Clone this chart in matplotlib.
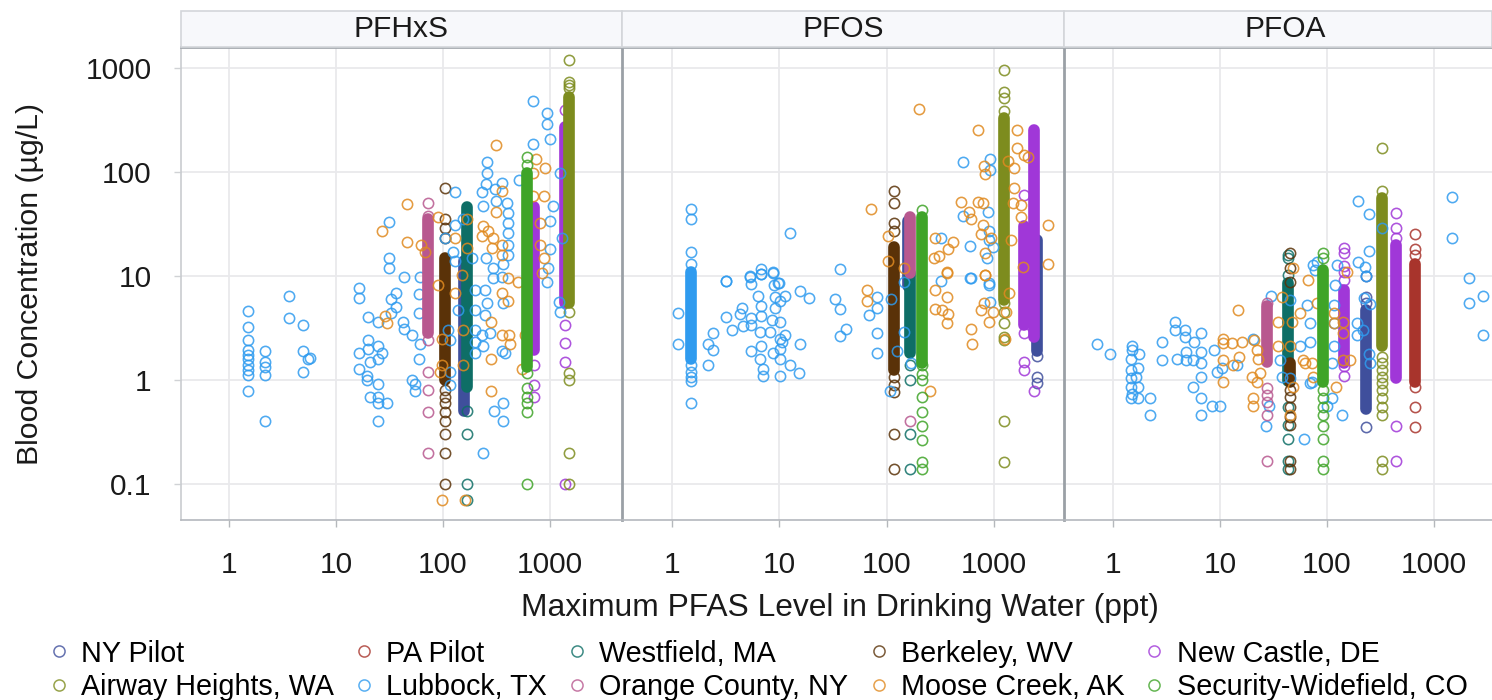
"""Three-panel scatter of PFAS blood concentration vs drinking water level by site."""
import matplotlib
matplotlib.use('Agg')
import matplotlib.pyplot as plt
from matplotlib.lines import Line2D
from matplotlib.patches import Rectangle

plt.rcParams['font.family'] = ['Liberation Sans', 'DejaVu Sans']

W, H = 1492, 700
FS = 21.5

panels = ['PFHxS', 'PFOS', 'PFOA']
tick_vals = [1, 10, 100, 1000]
ytick_vals = [0.1, 1, 10, 100, 1000]
ytick_labels = ['0.1', '1', '10', '100', '1000']

# legend order is also drawing order
sites = ['NY Pilot', 'PA Pilot', 'Westfield, MA', 'Berkeley, WV', 'New Castle, DE',
         'Airway Heights, WA', 'Lubbock, TX', 'Orange County, NY', 'Moose Creek, AK',
         'Security-Widefield, CO']
site_colors = ['#3f4f9c', '#a8342c', '#0e6e66', '#5a3208', '#a037d8',
               '#7d8c1e', '#2f9bef', '#b8588f', '#e08a20', '#3fa428']

# PFHxS: one site per water level. lo/hi is the stretch where the rings merge solid,
# rings are the separate circles still readable around it
pfhxs_site = ['NY Pilot', 'Westfield, MA', 'Berkeley, WV', 'New Castle, DE', 'New Castle, DE',
              'Airway Heights, WA', 'Orange County, NY', 'Security-Widefield, CO']
pfhxs_x = [157, 168, 105, 708, 1380, 1500, 72, 610]
pfhxs_lo = [0.5, 0.86, 1.0, 1.94, 5.5, 5.5, 2.8, 1.33]
pfhxs_hi = [14, 46, 15, 46, 270, 525, 35, 98]
pfhxs_rings = [[],
               [0.5, 0.3, 0.1, 0.07],
               [70, 35, 29, 23, 0.8, 0.69, 0.6, 0.49, 0.4, 0.3, 0.2, 0.1],
               [1.4, 0.9, 0.69],
               [390, 3.4, 2.26, 1.5, 0.1],
               [1200, 733, 690, 645, 4.5, 1.17, 1.0, 0.2, 0.1],
               [50, 38, 2.4, 1.2, 0.8, 0.49, 0.2],
               [139, 117, 1.16, 0.84, 0.69, 0.6, 0.49, 0.1]]
pfhxs_lubbock_x = [1.5, 1.5, 1.5, 1.5, 1.5, 1.5, 1.5, 1.5, 1.5, 1.5, 2.17, 2.17, 2.17, 2.17, 2.17,
                   3.6, 3.6, 4.9, 4.9, 4.9, 5.7, 5.5, 16.4, 16.4, 36.4, 32.4, 36.4, 32.4, 43, 61,
                   60, 60, 20, 24.9, 42, 43, 51, 61, 20, 24.9, 16.4, 20, 26.7, 24.9, 20.8, 16.4,
                   19.4, 19.4, 24.9, 20.8, 24.9, 24.9, 29.8, 24.9, 50.8, 55, 55, 60,
                   112, 116, 139, 199, 199, 199, 199, 199, 247, 256, 247, 230, 275, 238, 366,
                   353, 379, 295, 353, 238, 360, 300, 360, 931, 1222, 1240, 116, 116,
                   689, 931, 931, 1000, 689, 513, 256, 256, 252, 230, 353, 306, 235, 313, 394,
                   408, 129, 1074, 1000, 1000, 408, 408, 408, 408, 129, 104, 153, 252, 185, 125,
                   129, 1240, 1285, 31.5, 31.5, 31.5, 295, 366, 964]
pfhxs_lubbock_y = [4.6, 3.2, 2.4, 1.94, 1.74, 1.6, 1.39, 1.25, 1.12, 0.78, 1.9, 1.5, 1.33, 1.12, 0.4,
                   6.4, 3.9, 3.4, 1.9, 1.2, 1.63, 1.6, 7.6, 6.2, 6.8, 6.0, 5.0, 4.4, 9.7, 9.7,
                   6.7, 4.4, 4.0, 3.6, 3.6, 3.1, 2.7, 2.2, 2.4, 2.1, 1.8, 2.0, 1.8, 1.6, 1.5, 1.28,
                   1.09, 1.0, 0.91, 0.69, 0.69, 0.6, 0.6, 0.4, 1.0, 0.91, 0.79, 1.6,
                   3.0, 2.4, 4.7, 7.3, 4.7, 3.0, 2.3, 1.8, 7.3, 5.5, 4.2, 2.7, 2.8, 2.1, 5.5,
                   1.9, 1.8, 9.5, 9.8, 0.2, 0.6, 0.5, 0.4, 8.8, 5.6, 4.5, 1.2, 0.9,
                   485, 367, 289, 208, 186, 84, 124, 98, 76, 64, 79, 68, 47, 52, 50,
                   40, 64, 47, 34, 18, 32, 26, 20, 16, 31, 23, 35, 15, 15, 17,
                   14, 98, 23, 33, 15, 12, 12, 13, 12]
pfhxs_moose_x = [46, 27, 46, 90, 62, 68, 129, 166, 316, 740, 898, 698, 879, 698, 353, 310, 238, 230,
                 265, 295, 285, 353, 353, 166, 807, 807, 879,
                 29, 30, 90, 129, 97, 97, 94, 155, 155, 280, 280, 280, 357, 417, 423, 353, 408,
                 408, 506, 836, 97, 161, 543, 584, 150]
pfhxs_moose_y = [49, 27, 21, 37, 20, 17, 23, 35, 182, 133, 110, 97, 59, 59, 66, 41, 30, 24,
                 27, 23, 18.5, 20, 16, 18.5, 32, 20, 15,
                 4.1, 3.5, 8.2, 6.8, 2.5, 1.4, 1.2, 3.0, 1.4, 3.6, 1.6, 0.79, 2.7, 2.7, 2.2, 6.8, 5.7,
                 9.5, 8.8, 10.6, 0.07, 0.07, 1.28, 2.7, 10.2]

# PFOS
pfos_site = ['NY Pilot', 'NY Pilot', 'Westfield, MA', 'Berkeley, WV', 'New Castle, DE', 'New Castle, DE',
             'Airway Heights, WA', 'Lubbock, TX', 'Orange County, NY', 'Security-Widefield, CO']
pfos_x = [2500, 158, 165, 117, 1893, 2380, 1250, 1.5, 165, 215]
pfos_lo = [1.9, 8, 1.8, 1.25, 3.4, 2.6, 5.9, 1.6, 10.7, 1.45]
pfos_hi = [22, 34, 10.7, 19, 30, 254, 328, 11, 37, 37]
pfos_rings = [[1.07, 0.93, 1.7],
              [],
              [1.4, 1.0, 0.3, 0.14],
              [65, 50, 32, 27, 1.07, 0.9, 0.77, 0.3, 0.14],
              [60, 2.8, 1.5, 1.25],
              [0.79],
              [943, 584, 511, 388, 5.5, 4.5, 3.5, 2.6, 2.4, 0.4, 0.164],
              [44, 35, 17, 13, 1.4, 1.2, 1.07, 0.98, 0.6],
              [0.4],
              [43, 1.4, 1.15, 1.0, 0.69, 0.49, 0.36, 0.265, 0.164, 0.138]]
pfos_lubbock_x = [1.13, 1.13, 3.15, 5.3, 5.5, 6.8, 8.7, 9.7, 9.0, 6.3, 9.2, 11.4, 10.2, 6.7, 9.2,
                  4.5, 4.3, 6.8, 3.15, 5.4, 8.5, 10.2, 4.6, 5.4, 3.6, 2.4, 6.6, 8.2, 11.4, 10.2,
                  10.6, 2.15, 2.4, 6.8, 5.4, 10.2, 8.7, 6.6, 10.2, 2.15, 12.5, 7.0, 15.4, 7.0, 10.2,
                  15.7, 15.7, 18.8, 32.7, 36.4, 42, 36.4, 81, 81, 68, 81, 81, 145, 124, 107, 109, 168,
                  3.15, 5.3, 6.8, 6.7, 8.7, 9.9, 12.5, 36.4, 324, 510, 925, 925, 510, 887, 904, 904,
                  973, 600, 860, 600, 324, 904, 609, 904, 912, 145]
pfos_lubbock_y = [4.4, 2.2, 9.0, 10, 8.3, 10.5, 10.6, 8.6, 8.2, 6.4, 6.3, 6.4, 5.7, 5.1, 4.9,
                  4.9, 4.3, 4.1, 4.0, 3.9, 3.8, 3.6, 3.3, 3.4, 3.0, 2.85, 2.9, 2.9, 2.7, 2.5,
                  2.3, 2.2, 1.94, 2.1, 1.9, 2.0, 1.8, 1.6, 1.6, 1.38, 1.4, 1.27, 1.17, 1.09, 1.09,
                  2.2, 7.2, 6.1, 6.0, 4.8, 3.1, 2.65, 6.3, 4.9, 4.2, 2.85, 1.8, 2.9, 1.9, 0.79, 6.0, 1.45,
                  9.0, 9.8, 11.6, 10.4, 10.8, 8.6, 26, 11.7, 23, 124, 134, 105, 38, 41.5, 27, 22,
                  18.9, 19.4, 14.7, 9.5, 9.0, 8.5, 9.5, 8.2, 5.6, 8.8]
pfos_moose_x = [72, 102, 102, 200, 715, 1640, 1640, 1920, 2065, 812, 824, 1342, 1549, 1549, 492, 704,
                784, 587, 609, 784, 756, 937, 824, 411, 283, 374, 308, 277, 361, 3175, 3175, 1786,
                1854, 824, 1442, 145, 1786, 1496,
                65, 65, 283, 361, 283, 331, 369, 361, 609, 619, 824, 361, 812, 756, 973, 904, 1390,
                1295, 1267, 254]
pfos_moose_y = [44, 24, 14, 403, 254, 254, 169, 146, 140, 115, 95, 126, 108, 70, 51, 51,
                50, 41.5, 35, 31, 25, 23, 16.5, 21, 23, 18, 15.6, 14.8, 11, 31, 13, 48,
                12.3, 10.2, 22, 11.9, 37, 50,
                7.4, 5.7, 7.3, 6.3, 4.8, 4.7, 4.3, 3.5, 3.1, 2.2, 10.2, 10.6, 5.5, 4.7, 4.5, 3.6, 6.8,
                4.5, 2.5, 0.79]

# PFOA
pfoa_site = ['NY Pilot', 'PA Pilot', 'Westfield, MA', 'Berkeley, WV', 'New Castle, DE', 'New Castle, DE',
             'Airway Heights, WA', 'Orange County, NY', 'Security-Widefield, CO']
pfoa_x = [231, 664, 43.5, 45, 144, 442, 324, 27.7, 92]
pfoa_lo = [0.53, 0.95, 0.97, 0.95, 1.45, 1.05, 2.1, 1.5, 0.95]
pfoa_hi = [4.7, 13, 8.5, 1.45, 7.3, 20, 56, 5.1, 11.4]
pfoa_rings = [[0.35, 6.3, 5.5, 9.9],
              [25, 18, 16, 0.855, 0.55, 0.35],
              [10.2, 16, 15, 0.55, 0.37, 0.27, 0.14, 0.166],
              [16.5, 12, 8.8, 0.8, 0.69, 0.55, 0.44, 0.37, 0.166, 0.14],
              [18.5, 16.7, 12.5, 11, 9.2, 1.35, 1.1],
              [40, 29, 23, 0.36, 0.166],
              [170, 65, 1.68, 1.45, 1.25, 1.07, 0.93, 0.8, 0.67, 0.55, 0.46, 0.166, 0.14],
              [5.5, 0.83, 0.72, 0.62, 0.46, 0.166],
              [16.6, 15, 0.8, 0.67, 0.55, 0.46, 0.36, 0.27, 0.166, 0.14]]
pfoa_lubbock_x = [0.71, 0.94, 1.49, 1.49, 1.76, 1.47, 1.72, 1.47, 1.64, 1.47, 1.72, 1.47, 1.49, 1.72,
                  1.47, 2.2, 2.2, 2.9, 2.9, 3.8, 3.8, 4.7, 4.7, 4.0, 4.8, 4.8, 5.7, 6.7, 5.6, 6.6,
                  6.7, 6.6, 5.6, 6.6, 6.6, 8.5, 10.1, 8.7, 9.4, 10.5, 14.3, 20.5, 30, 27, 29, 61,
                  65, 70, 69, 36, 38, 45, 111, 99, 139, 74, 77, 80, 123, 119, 116, 115, 115, 111,
                  196, 249, 249, 196, 226, 231, 222, 252, 190, 190, 218, 249, 252, 1463, 1463,
                  2138, 2138, 2890, 2890, 324, 72, 69, 56, 45]
pfoa_lubbock_y = [2.2, 1.78, 2.1, 1.94, 1.78, 1.58, 1.3, 1.25, 1.07, 1.04, 0.86, 0.86, 0.74, 0.67,
                  0.67, 0.67, 0.46, 2.3, 1.56, 3.6, 3.0, 3.0, 2.6, 1.58, 1.87, 1.55, 2.3, 2.8, 1.56, 1.87,
                  1.45, 1.07, 0.86, 0.67, 0.46, 0.56, 0.56, 1.94, 1.2, 1.3, 1.4, 2.5, 6.4, 0.36, 0.56, 0.27,
                  5.2, 3.5, 2.3, 1.56, 1.07, 1.04, 0.67, 0.56, 0.46, 12.8, 11.4, 13.7, 12.8, 8.2, 5.3, 3.5, 2.1, 1.45,
                  52, 39.5, 17.5, 13.7, 12.1, 10, 6.2, 5.4, 3.5, 2.7, 3.0, 1.78, 1.45, 57, 23,
                  9.6, 5.5, 6.4, 2.7, 29, 0.96, 0.93, 2.1, 5.9]
pfoa_moose_x = [14.8, 10.7, 10.7, 12.9, 16, 10.7, 13.3, 15, 10.7, 20.5, 20.5, 22.8, 22, 21, 19.8, 22,
                23.7, 35, 38, 48, 47, 56, 35, 45, 60, 72, 67, 80, 115, 115, 153, 142, 142, 142,
                164, 121, 74, 45, 48, 62]
pfoa_moose_y = [4.7, 2.5, 2.25, 2.25, 2.3, 1.56, 1.4, 1.68, 0.96, 0.67, 0.56, 1.6, 1.94, 2.4, 1.07, 0.96,
                1.16, 3.6, 6.3, 11.9, 3.6, 4.4, 2.1, 2.1, 1.56, 1.45, 9.2, 5.5, 4.4, 3.5, 11, 3.6, 2.8, 1.56,
                1.56, 0.86, 1.07, 0.46, 0.86, 1.45]

panel_site = [pfhxs_site, pfos_site, pfoa_site]
panel_x = [pfhxs_x, pfos_x, pfoa_x]
panel_lo = [pfhxs_lo, pfos_lo, pfoa_lo]
panel_hi = [pfhxs_hi, pfos_hi, pfoa_hi]
panel_rings = [pfhxs_rings, pfos_rings, pfoa_rings]
lubbock_x = [pfhxs_lubbock_x, pfos_lubbock_x, pfoa_lubbock_x]
lubbock_y = [pfhxs_lubbock_y, pfos_lubbock_y, pfoa_lubbock_y]
moose_x = [pfhxs_moose_x, pfos_moose_x, pfoa_moose_x]
moose_y = [pfhxs_moose_y, pfos_moose_y, pfoa_moose_y]

# pixel layout of the panels
edges = [(181, 622), (622, 1064), (1064, 1492)]
xlims = [(10**-0.449, 10**3.673), (10**-0.466, 10**3.652), (10**-0.458, 10**3.542)]
top, bottom, strip_top = 47, 520, 11

fig = plt.figure(figsize=(W/100, H/100), dpi=100)
fig.patch.set_facecolor('white')

ring = dict(marker='o', ms=7.4, mfc='none', mew=1.15, ls='none', alpha=0.85)

for i, name in enumerate(panels):
    x0, x1 = edges[i]
    ax = fig.add_axes([x0/W, 1-bottom/H, (x1-x0)/W, (bottom-top)/H])
    ax.set_xscale('log')
    ax.set_yscale('log')
    ax.set_xlim(*xlims[i])
    ax.set_ylim(10**-1.346, 10**3.2)
    ax.grid(True, which='major', color='#e9e9ec', lw=1.3)
    ax.set_axisbelow(True)
    ax.minorticks_off()

    ax.set_xticks(tick_vals)
    ax.set_xticklabels(['1', '10', '100', '1000'], fontsize=FS, color='#1a1a1a')
    ax.tick_params(axis='x', length=5, width=1, color='#b5b8bc', pad=17)
    if i == 0:
        ax.set_yticks(ytick_vals)
        ax.set_yticklabels(ytick_labels, fontsize=FS, color='#1a1a1a')
        ax.tick_params(axis='y', length=5, width=1, color='#d0d2d5', pad=16)
    else:
        ax.set_yticks(ytick_vals)
        ax.tick_params(axis='y', length=0, labelleft=False)

    for side in ax.spines:
        ax.spines[side].set_color('#b4b8bd')
        ax.spines[side].set_linewidth(1.2)
    ax.spines['top'].set_color('#a3a8ae')
    ax.spines['top'].set_linewidth(2)
    ax.spines['right'].set_visible(False)
    if i == 0:
        ax.spines['left'].set_color('#c9ccd0')
    else:
        ax.spines['left'].set_color('#9aa0a6')
        ax.spines['left'].set_linewidth(2)

    for name2, col in zip(sites, site_colors):
        if name2 == 'Lubbock, TX':
            ax.plot(lubbock_x[i], lubbock_y[i], color=col, **ring)
        if name2 == 'Moose Creek, AK':
            ax.plot(moose_x[i], moose_y[i], color=col, **ring)
        for s, xv, lo, hi, rr in zip(panel_site[i], panel_x[i], panel_lo[i], panel_hi[i], panel_rings[i]):
            if s != name2:
                continue
            ax.plot([xv, xv], [lo, hi], color=col, lw=8.4, solid_capstyle='round')
            if rr:
                ax.plot([xv]*len(rr), rr, color=col, **ring)

    # facet strip above the panel
    fig.add_artist(Rectangle((x0/W, 1-top/H), (x1-x0)/W, (top-strip_top)/H, transform=fig.transFigure,
                             fc='#f7f8fb', ec='#d3d6da', lw=1.2))
    fig.text((x0+x1)/2/W if i != 2 else 1285/W, 1-29/H, name, ha='center', va='center',
             fontsize=FS, color='#1a1a1a')

fig.text(30/W, 1-284/H, 'Blood Concentration (µg/L)', rotation=90, ha='center', va='center',
         fontsize=21.8, color='#1a1a1a')
fig.text(840/W, 1-608/H, 'Maximum PFAS Level in Drinking Water (ppt)', ha='center', va='center',
         fontsize=22.9, color='#1a1a1a')

# legend fills by column, so give it the two rows column by column
order = [0, 5, 1, 6, 2, 7, 3, 8, 4, 9]
handles = [Line2D([], [], marker='o', ls='none', ms=8, mfc='none', mew=1.1, alpha=0.8,
                  color=site_colors[k]) for k in order]
fig.legend(handles, [sites[k] for k in order], ncol=5, loc='lower left',
           bbox_to_anchor=(46/W, -1/H), frameon=False, fontsize=20.7, borderaxespad=0, borderpad=0,
           handlelength=0.9, handletextpad=0.32, columnspacing=0.6, labelspacing=0.19)

plt.savefig('out.png', dpi=100)
